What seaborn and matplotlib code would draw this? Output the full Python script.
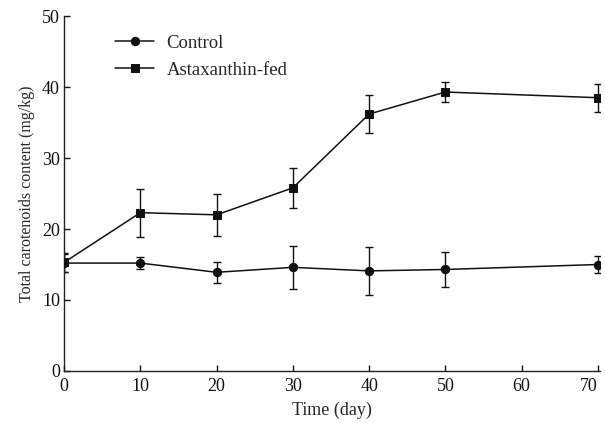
import numpy as np
import pandas as pd
import matplotlib
matplotlib.use("Agg")
import matplotlib.pyplot as plt
import seaborn as sns

# Data
days = [0, 10, 20, 30, 40, 50, 70]
control_mean = [15.2, 15.2, 13.9, 14.6, 14.1, 14.3, 15.0]
control_err = [1.3, 0.8, 1.5, 3.0, 3.4, 2.4, 1.2]
astax_mean = [15.3, 22.3, 22.0, 25.8, 36.2, 39.3, 38.5]
astax_err = [1.3, 3.4, 3.0, 2.8, 2.7, 1.4, 1.95]

sns.set_style("ticks")
plt.rcParams['font.family'] = ['Liberation Serif', 'DejaVu Serif']
plt.rcParams['mathtext.fontset'] = 'stix'

df = pd.DataFrame({
    'day': days * 2,
    'value': control_mean + astax_mean,
    'err': control_err + astax_err,
    'group': ['Control'] * len(days) + ['Astaxanthin-fed'] * len(days),
})

fig = plt.figure(figsize=(6.05, 4.23), dpi=100)
ax = fig.add_axes([0.106, 0.123, 0.886, 0.839])

# error bars first
for grp in ['Control', 'Astaxanthin-fed']:
    sub = df[df['group'] == grp]
    ax.errorbar(sub['day'], sub['value'], yerr=sub['err'], fmt='none',
                ecolor='#111111', elinewidth=1.0, capsize=2.6, capthick=1.0, zorder=2)

sns.lineplot(data=df, x='day', y='value', hue='group', style='group',
             markers={'Control': 'o', 'Astaxanthin-fed': 's'},
             dashes=False, palette={'Control': '#111111', 'Astaxanthin-fed': '#111111'},
             linewidth=1.1, markersize=6, markeredgecolor='#111111',
             ax=ax, zorder=3)

ax.set_xlim(0, 70.3)
ax.set_ylim(0, 50)
ax.set_xticks(range(0, 71, 10))
ax.set_yticks(range(0, 51, 10))
ax.tick_params(direction='in', length=4, width=1, labelsize=13, colors='#111111', pad=3)
ax.tick_params(axis='x', pad=5)
# last label sits left of its tick, as in the original figure
ax.get_xticklabels()[-1].set_horizontalalignment('right')
sns.despine(ax=ax)
for s in ['left', 'bottom']:
    ax.spines[s].set_linewidth(1.0)
    ax.spines[s].set_color('#222222')

ax.set_xlabel('Time (day)', fontsize=13, labelpad=5)
ax.set_ylabel('Total carotenoids content (mg/kg)', fontsize=11.5, labelpad=5)

leg = ax.legend(title=None, loc='upper left', bbox_to_anchor=(0.095, 0.947),
                frameon=False, fontsize=13.5, handlelength=2.1, handletextpad=0.65,
                borderaxespad=0, borderpad=0, labelspacing=0.5)

fig.savefig('out.png', dpi=100)
